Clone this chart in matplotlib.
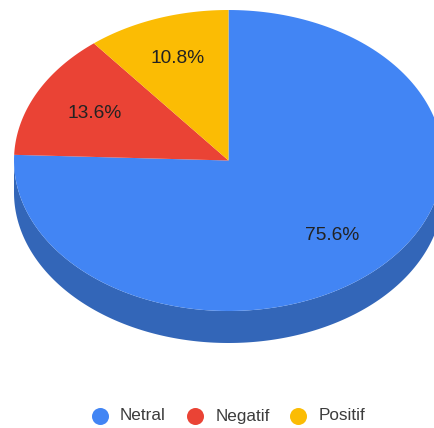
import numpy as np
import matplotlib
matplotlib.use('Agg')
import matplotlib.pyplot as plt

labels = ['Netral', 'Negatif', 'Positif']
values = [75.6, 13.6, 10.8]
colors = ['#4285f4', '#ea4335', '#fbbc04']
side_color = '#3366b8'

W, H = 435, 428
cx, cy = 228.5, 160.5    # pie centre, pixels
rx, ry = 214.5, 150.5
depth = 32

fig = plt.figure(figsize=(W/100, H/100), dpi=100)
ax = fig.add_axes([0, 0, 1, 1])
ax.set_xlim(0, W)
ax.set_ylim(H, 0)
ax.axis('off')

# side wall of the blue slice (front half only)
t = np.linspace(0, np.pi, 200)
x = cx + rx*np.cos(t)
y = cy + ry*np.sin(t)
ax.fill(np.r_[x, x[::-1]], np.r_[y, y[::-1] + depth], color=side_color, lw=0)

# top face, clockwise from 12 o'clock, labels along each slice's mid angle
label_r = [0.695, 0.70, 0.716]
start = -np.pi/2
for val, col, r in zip(values, colors, label_r):
    sweep = 2*np.pi*val/sum(values)
    t = np.linspace(start, start + sweep, 200)
    ax.fill(np.r_[cx, cx + rx*np.cos(t)], np.r_[cy, cy + ry*np.sin(t)], color=col, lw=0)
    mid = start + sweep/2
    ax.text(cx + r*rx*np.cos(mid), cy + r*ry*np.sin(mid), f'{val}%', ha='center', va='center',
            fontsize=13.8, family='Liberation Sans', color='#222222')
    start += sweep

# legend
dot_x = [100, 195, 298]
text_x = [120, 216, 319]
for lab, col, dx, tx in zip(labels, colors, dot_x, text_x):
    ax.scatter([dx], [416], s=150, color=col, lw=0)
    ax.text(tx, 416, lab, ha='left', va='center', fontsize=12.3,
            family='Liberation Sans', color='#3c3c3c')

fig.savefig('out.png', dpi=100)
